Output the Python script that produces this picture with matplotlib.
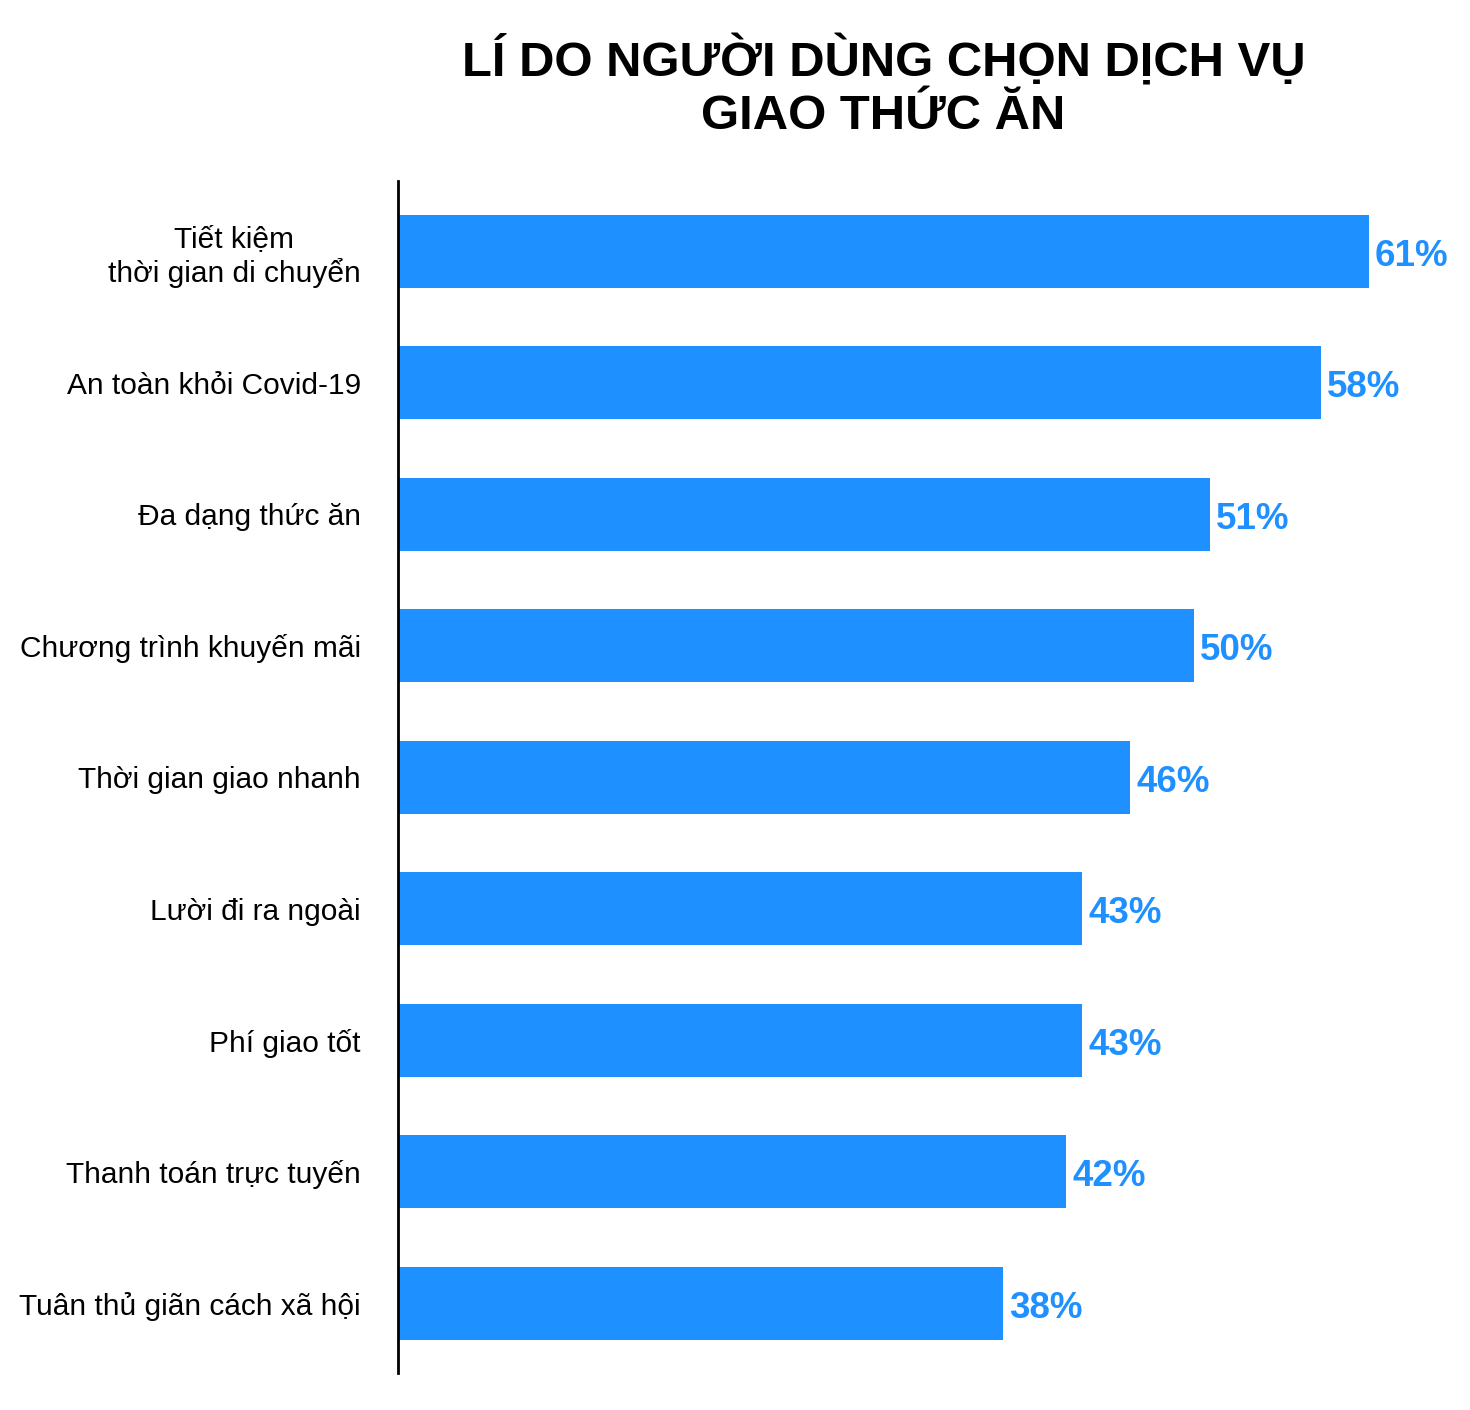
import matplotlib
matplotlib.use("Agg")
import matplotlib.pyplot as plt

categories = [
    "Tiết kiệm\nthời gian di chuyển",
    "An toàn khỏi Covid-19",
    "Đa dạng thức ăn",
    "Chương trình khuyến mãi",
    "Thời gian giao nhanh",
    "Lười đi ra ngoài",
    "Phí giao tốt",
    "Thanh toán trực tuyến",
    "Tuân thủ giãn cách xã hội",
]
values = [61, 58, 51, 50, 46, 43, 43, 42, 38]
title = "LÍ DO NGƯỜI DÙNG CHỌN DỊCH VỤ\nGIAO THỨC ĂN"

plt.rcParams['font.family'] = ['Liberation Sans', 'DejaVu Sans']

W, H = 1470, 1410
fig = plt.figure(figsize=(W / 100, H / 100), dpi=100)
left, right, top, bottom = 398.3, 1368.7, 181, 1373
ax = fig.add_axes([left / W, 1 - bottom / H, (right - left) / W, (bottom - top) / H])

color = "#1E90FF"
pos = list(range(len(categories)))
ax.barh(pos, values, height=0.555, color=color, zorder=2)
ax.set_xlim(0, 61)
ax.set_ylim(8.531, -0.535)

ax.set_yticks(pos)
ax.set_yticklabels(categories, fontsize=21.5, ha='right', multialignment='center')
ax.tick_params(axis='y', length=0, pad=27)
ax.set_xticks([])
for s in ['top', 'right', 'bottom']:
    ax.spines[s].set_visible(False)
ax.spines['left'].set_linewidth(2)

for p, v in zip(pos, values):
    ax.annotate(f"{v}%", xy=(v, p), xytext=(4.5, -10.5), textcoords='offset points',
                ha='left', va='baseline', fontsize=26.5, fontweight='bold',
                color=color, clip_on=False)

fig.text((left + right) / 2 / W, 1 - 34 / H, title, ha='center', va='top',
         fontsize=35.3, fontweight='bold', linespacing=1.22)

fig.savefig("out.png", dpi=100, facecolor='white')
